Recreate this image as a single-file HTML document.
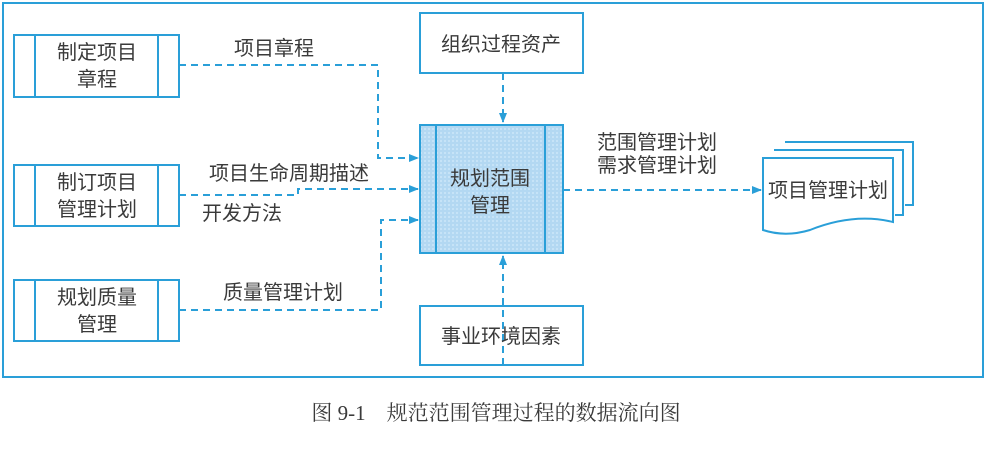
<!DOCTYPE html>
<html><head><meta charset="utf-8"><style>
body{margin:0;background:#fff;width:991px;height:455px;overflow:hidden}
svg text{font-family:"Liberation Sans","Noto Sans CJK SC",sans-serif;fill:#3a3a3a;font-size:20px}
</style></head><body>
<svg width="991" height="455" viewBox="0 0 991 455">
<defs>
<marker id="a" markerWidth="10" markerHeight="8" refX="9" refY="4" orient="auto" markerUnits="userSpaceOnUse"><path d="M0,0 L10,4 L0,8 Z" fill="#2a9fd8"/></marker>
<pattern id="p" width="4" height="4" patternUnits="userSpaceOnUse"><rect width="4" height="4" fill="#b3d8f2"/><rect width="2" height="2" fill="#c6e3f7"/></pattern>
</defs>
<rect x="3" y="3" width="980" height="374" fill="none" stroke="#2a9fd8" stroke-width="2"/>
<g fill="#fff" stroke="#2a9fd8" stroke-width="2">
<rect x="14" y="35" width="165" height="62"/><line x1="35" y1="35" x2="35" y2="97"/><line x1="158" y1="35" x2="158" y2="97"/>
<rect x="14" y="165" width="165" height="61"/><line x1="35" y1="165" x2="35" y2="226"/><line x1="158" y1="165" x2="158" y2="226"/>
<rect x="14" y="280" width="165" height="61"/><line x1="35" y1="280" x2="35" y2="341"/><line x1="158" y1="280" x2="158" y2="341"/>
<rect x="420" y="13" width="163" height="60"/>
<rect x="420" y="306" width="163" height="59"/>
<rect x="420" y="125" width="143" height="128" fill="url(#p)"/><line x1="436" y1="125" x2="436" y2="253"/><line x1="545" y1="125" x2="545" y2="253"/>
<path d="M785,142 L913,142 L913,205 L905,205"/>
<path d="M774,150 L903,150 L903,215 L895,215"/>
<path d="M763,158 L893,158 L893,222 C860,214 830,222 810,230 C790,236 775,234 763,230 Z"/>
</g>
<g fill="none" stroke="#2a9fd8" stroke-width="2" stroke-dasharray="7,5">
<path d="M179,65 H378 V158 H418" marker-end="url(#a)"/>
<path d="M179,195 H298 V189 H418" marker-end="url(#a)"/>
<path d="M179,310 H381 V220 H418" marker-end="url(#a)"/>
<path d="M503,73 V122" marker-end="url(#a)"/>
<path d="M503,365 V256" marker-end="url(#a)"/>
<path d="M563,190 H761" marker-end="url(#a)"/>
</g>
<g text-anchor="middle">
<text x="97" y="59">制定项目</text><text x="97" y="86">章程</text>
<text x="97" y="189">制订项目</text><text x="97" y="216">管理计划</text>
<text x="97" y="304">规划质量</text><text x="97" y="331">管理</text>
<text x="501" y="51">组织过程资产</text>
<text x="501" y="343">事业环境因素</text>
<text x="490" y="185">规划范围</text><text x="490" y="212">管理</text>
<text x="828" y="197">项目管理计划</text>
<text x="274" y="55">项目章程</text>
<text x="289" y="180">项目生命周期描述</text>
<text x="242" y="220">开发方法</text>
<text x="283" y="299">质量管理计划</text>
<text x="657" y="149">范围管理计划</text>
<text x="657" y="172">需求管理计划</text>
<text x="496" y="420" style="font-family:'Liberation Serif','Noto Serif CJK SC',serif;font-size:21px">图 9-1　规范范围管理过程的数据流向图</text>
</g>
</svg>
</body></html>
